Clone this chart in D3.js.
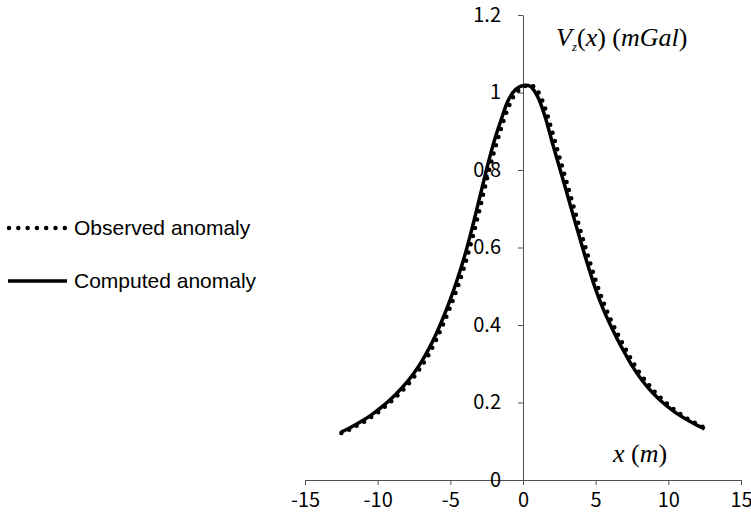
<!DOCTYPE html>
<html>
<head>
<meta charset="utf-8">
<script src="https://cdn.jsdelivr.net/npm/d3@7"></script>
<style>
  html, body { margin: 0; padding: 0; background: #fff; }
  svg { display: block; }
</style>
</head>
<body>
<svg id="chart" width="751" height="519"></svg>
<script>
// ---- data ----
const xGrid = [-12.5,-12,-11.5,-11,-10.5,-10,-9.5,-9,-8.5,-8,-7.5,-7,-6.5,-6,-5.5,-5,-4.5,-4,-3.5,-3,-2.5,-2,-1.5,-1,-0.5,0,0.5,1,1.5,2,2.5,3,3.5,4,4.5,5,5.5,6,6.5,7,7.5,8,8.5,9,9.5,10,10.5,11,11.5,12,12.5];
const computedValues = [0.124,0.133,0.143,0.154,0.166,0.180,0.195,0.212,0.231,0.252,0.276,0.304,0.337,0.375,0.418,0.466,0.520,0.580,0.650,0.726,0.802,0.872,0.930,0.981,1.008,1.018,1.016,0.990,0.940,0.873,0.808,0.743,0.677,0.612,0.550,0.492,0.443,0.401,0.363,0.328,0.295,0.267,0.243,0.222,0.204,0.188,0.174,0.162,0.151,0.141,0.132];
const observedValues = [0.121,0.129,0.139,0.149,0.161,0.174,0.189,0.205,0.223,0.243,0.266,0.293,0.323,0.360,0.401,0.447,0.498,0.555,0.622,0.696,0.774,0.846,0.908,0.962,0.998,1.013,1.020,1.004,0.962,0.900,0.834,0.769,0.703,0.638,0.575,0.515,0.462,0.417,0.378,0.342,0.308,0.278,0.253,0.230,0.211,0.194,0.179,0.166,0.154,0.144,0.135];
const xTicks = [-15,-10,-5,0,5,10,15];
const yTicks = [0,0.2,0.4,0.6,0.8,1,1.2];
const yTickLabels = ["0","0.2","0.4","0.6","0.8","1","1.2"];
const seriesNames = ["Observed anomaly","Computed anomaly"];

const svg = d3.select("#chart");
const x = d3.scaleLinear().domain([-15,15]).range([305,741]);
const y = d3.scaleLinear().domain([0,1.2]).range([480,15]);

const tickFont = "'Noto Sans CJK KR', 'Noto Sans', sans-serif";
const axisColor = "#505050";

// X axis
const gx = svg.append("g").attr("transform", `translate(0,${y(0)})`)
  .call(d3.axisBottom(x).tickValues(xTicks).tickSize(5).tickSizeOuter(0).tickPadding(8).tickFormat(d => String(d)));
gx.select(".domain").attr("stroke", axisColor);
gx.selectAll(".tick line").attr("stroke", axisColor);
gx.selectAll(".tick text").attr("font-family", tickFont).attr("font-size", 20).attr("fill", "#000");

// Y axis
const gy = svg.append("g").attr("transform", `translate(${x(0)},0)`)
  .call(d3.axisLeft(y).tickValues(yTicks).tickSize(5).tickSizeOuter(0).tickPadding(17)
    .tickFormat((d,i) => yTickLabels[i]));
gy.select(".domain").attr("stroke", axisColor);
gy.selectAll(".tick line").attr("stroke", axisColor);
gy.selectAll(".tick text").attr("font-family", tickFont).attr("font-size", 20).attr("fill", "#000");

// lines
const line = d3.line().x(d => x(d[0])).y(d => y(d[1])).curve(d3.curveCatmullRom);
const computed = xGrid.map((v,i) => [v, computedValues[i]]);
const observed = xGrid.map((v,i) => [v, observedValues[i]]);

svg.append("path").datum(computed).attr("d", line)
  .attr("fill", "none").attr("stroke", "#000").attr("stroke-width", 3.5).attr("stroke-linejoin", "round");
svg.append("path").datum(observed).attr("d", line)
  .attr("fill", "none").attr("stroke", "#000").attr("stroke-width", 4.5)
  .attr("stroke-linecap", "round").attr("stroke-dasharray", "0 8.5");

// axis titles
const title = svg.append("text").attr("x", 556).attr("y", 46)
  .attr("font-family", "'Liberation Serif', 'Times New Roman', serif").attr("font-size", 26).attr("fill", "#000");
title.append("tspan").attr("font-style", "italic").text("V");
title.append("tspan").attr("font-style", "italic").attr("font-size", 13).attr("dy", 5).text("z");
title.append("tspan").attr("dy", -5).text("(");
title.append("tspan").attr("font-style", "italic").text("x");
title.append("tspan").text(") (");
title.append("tspan").attr("font-style", "italic").text("mGal");
title.append("tspan").text(")");

const xt = svg.append("text").attr("x", 613).attr("y", 462)
  .attr("font-family", "'Liberation Serif', 'Times New Roman', serif").attr("font-size", 26).attr("fill", "#000");
xt.append("tspan").attr("font-style", "italic").text("x");
xt.append("tspan").text(" (");
xt.append("tspan").attr("font-style", "italic").text("m");
xt.append("tspan").text(")");

// legend
const legend = svg.append("g");
const legY = [228, 281];
legend.append("line").attr("x1", 9).attr("x2", 65).attr("y1", legY[0]).attr("y2", legY[0])
  .attr("stroke", "#000").attr("stroke-width", 4.5).attr("stroke-linecap", "round").attr("stroke-dasharray", "0 9.3");
legend.append("line").attr("x1", 8).attr("x2", 67).attr("y1", legY[1]).attr("y2", legY[1])
  .attr("stroke", "#000").attr("stroke-width", 3.5);
seriesNames.forEach((n,i) => {
  legend.append("text").attr("x", 74).attr("y", legY[i] + 7)
    .attr("font-family", "'Liberation Sans', Arial, sans-serif").attr("font-size", 21).attr("fill", "#000").text(n);
});
</script>
</body>
</html>
